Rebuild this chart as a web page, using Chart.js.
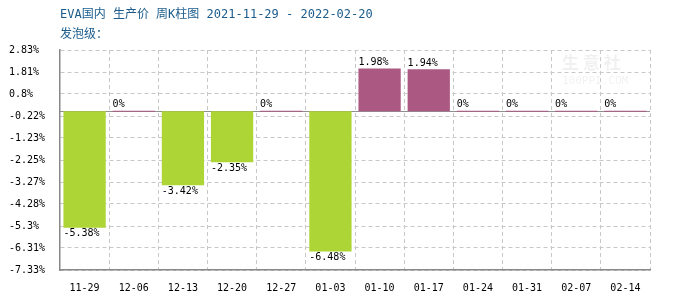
<!DOCTYPE html>
<html>
<head>
<meta charset="utf-8">
<script src="https://cdn.jsdelivr.net/npm/chart.js@4"></script>
<style>
  html,body{margin:0;padding:0;background:#fff;}
  #wrap{width:700px;height:300px;}
</style>
</head>
<body>
<div id="wrap"><canvas id="weekChart" width="700" height="300"></canvas></div>
<script>
const weeks = ["11-29","12-06","12-13","12-20","12-27","01-03","01-10","01-17","01-24","01-31","02-07","02-14"];
const changes = [-5.38, 0, -3.42, -2.35, 0, -6.48, 1.98, 1.94, 0, 0, 0, 0];
const yTicks = [2.83, 1.81, 0.8, -0.22, -1.23, -2.25, -3.27, -4.28, -5.3, -6.31, -7.33];
const titleLine1 = "EVA国内 生产价 周K柱图 2021-11-29 - 2022-02-20";
const titleLine2 = "发泡级：";

const monoFont = "'DejaVu Sans Mono', 'Liberation Mono', monospace";
const upColor = "#ab5882";
const downColor = "#acd535";

// title text + watermark + zero line
const decorPlugin = {
    id:"decor",
    beforeDatasetsDraw(chart){
        const ctx = chart.ctx;
        const area = chart.chartArea;
        const y0 = chart.scales.y.getPixelForValue(0);
        ctx.save();
        // watermark
        ctx.fillStyle = "rgba(0,0,0,0.06)";
        ctx.font = "bold 17px 'Noto Sans CJK SC'";
        ctx.textBaseline = "middle";
        ctx.fillText("生 意 社", 562, 63);
        ctx.font = "11px " + monoFont;
        ctx.fillText("100PPI.COM", 562, 81);
        // zero line
        ctx.strokeStyle = "#909090";
        ctx.lineWidth = 1;
        ctx.beginPath();
        ctx.moveTo(area.left, Math.round(y0) + 0.5);
        ctx.lineTo(area.right, Math.round(y0) + 0.5);
        ctx.stroke();
        ctx.restore();
    },
    afterDraw(chart){
        const ctx = chart.ctx;
        ctx.save();
        ctx.fillStyle = "#1b5c8c";
        ctx.font = "12px " + monoFont + ", 'Noto Sans CJK SC'";
        ctx.textBaseline = "middle";
        ctx.fillText(titleLine1, 60, 15);
        ctx.fillText(titleLine2, 60, 35);
        ctx.restore();
    }
};

// value labels on bars
const valueLabels = {
    id:"valueLabels",
    afterDatasetsDraw(chart){
        const ctx = chart.ctx;
        const meta = chart.getDatasetMeta(0);
        ctx.save();
        ctx.fillStyle = "#000";
        ctx.font = "10px " + monoFont;
        ctx.textAlign = "left";
        meta.data.forEach((bar,i)=>{
            const v = changes[i];
            const left = bar.x - bar.width/2;
            if(v < 0){
                ctx.textBaseline = "top";
                ctx.fillText(v + "%", left, bar.y + 1);
            } else {
                ctx.textBaseline = "bottom";
                ctx.fillText(v + "%", left, Math.min(bar.y, bar.base) - 1);
            }
        });
        ctx.restore();
    }
};

const weekChart = new Chart(document.getElementById("weekChart"),{
    type:"bar",
    data:{
        labels:weeks,
        datasets:[{
            data:changes,
            backgroundColor:changes.map(v=>v<0?downColor:upColor),
            barPercentage:0.86,
            categoryPercentage:1,
            minBarLength:1
        }]
    },
    options:{
        responsive:false,
        animation:false,
        layout:{ padding:{top:50,right:50,left:9,bottom:0} },
        plugins:{ legend:{display:false}, tooltip:{enabled:false}, title:{display:false} },
        scales:{
            x:{
                grid:{ color:"#c8c8c8", drawTicks:false, offset:true },
                border:{ color:"#888", width:1.5, dash:[4,3] },
                ticks:{ color:"#000", font:{family:monoFont,size:10}, padding:12, maxRotation:0 },
                afterFit(s){ s.height = 30; }
            },
            y:{
                min:-7.33,
                max:2.83,
                afterBuildTicks(s){ s.ticks = yTicks.map(v=>({value:v})); },
                grid:{ color:"#c8c8c8", drawTicks:false },
                border:{ color:"#888", width:1.5, dash:[4,3] },
                ticks:{
                    color:"#000",
                    font:{family:monoFont,size:10},
                    crossAlign:"far",
                    callback:(v)=>v + "%"
                },
                afterFit(s){ s.width = 51; }
            }
        }
    },
    plugins:[decorPlugin, valueLabels]
});
</script>
</body>
</html>
